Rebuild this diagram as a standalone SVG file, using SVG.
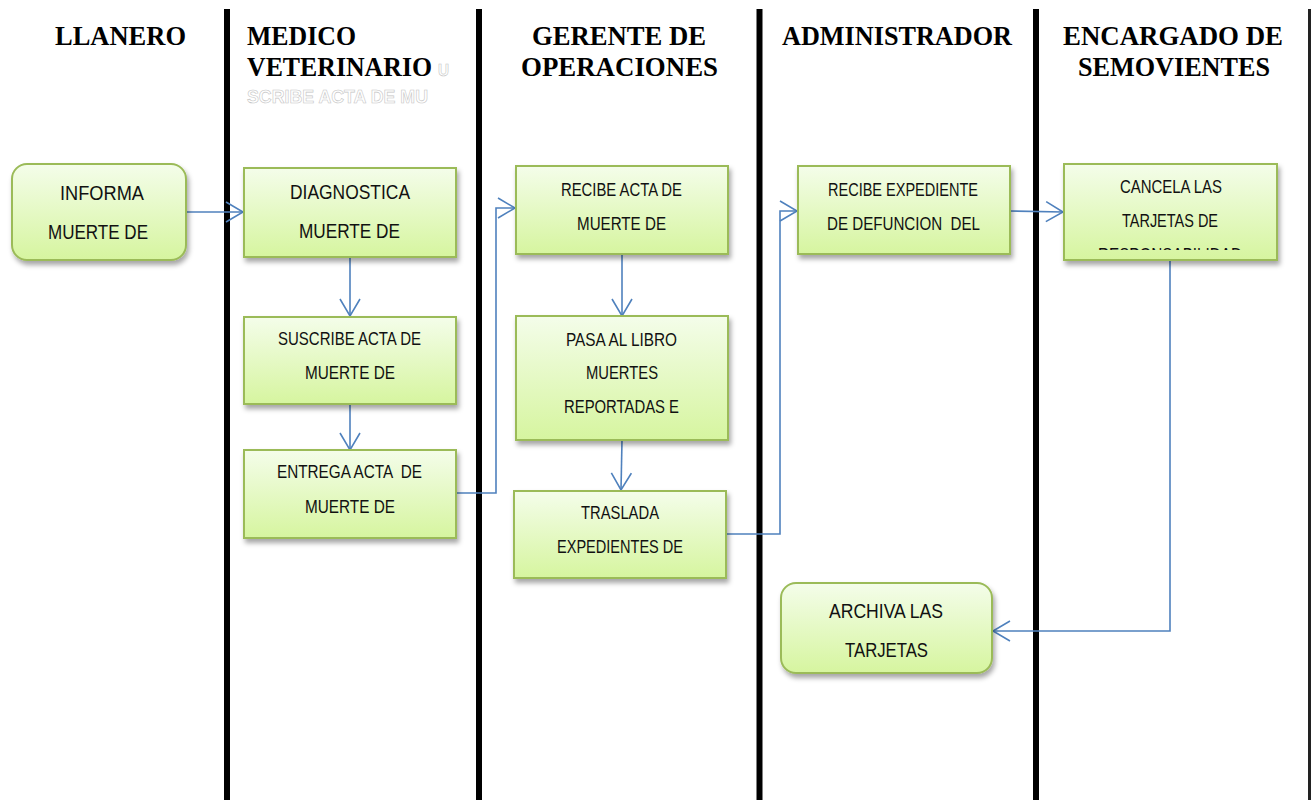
<svg xmlns="http://www.w3.org/2000/svg" width="1312" height="800" viewBox="0 0 1312 800">
<style>
.lane{stroke:#000;stroke-width:6}
.hdr{font-family:"Liberation Serif","Times New Roman",serif;font-weight:bold;font-size:28px;fill:#000}
.ghost{font-family:"Liberation Sans",Arial,sans-serif;font-weight:bold;fill:#fff;stroke:#c4c4c4;stroke-width:0.6}
.box{fill:url(#g);stroke:#9bbb59;stroke-width:2;filter:url(#sh)}
.t{font-family:"Liberation Sans",Arial,sans-serif;fill:#111;white-space:pre}
.L{font-size:21px}
.S{font-size:18px}
.c{fill:none;stroke:#4f81bd;stroke-width:1.6}
</style>
<defs>
<linearGradient id="g" x1="0" y1="0" x2="0" y2="1">
<stop offset="0" stop-color="#f4fdea"/>
<stop offset="1" stop-color="#d6f59f"/>
</linearGradient>
<filter id="sh" x="-10%" y="-10%" width="125%" height="135%">
<feDropShadow dx="2" dy="4" stdDeviation="2.5" flood-color="#000" flood-opacity="0.35"/>
</filter>
<marker id="ah" viewBox="-1 -1 20 22" markerUnits="userSpaceOnUse" markerWidth="20" markerHeight="22" refX="17" refY="10" orient="auto">
<path d="M0,0 L17,10 L0,20" fill="none" stroke="#4f81bd" stroke-width="1.6"/>
</marker>
<clipPath id="clip9"><rect x="1064" y="164" width="213" height="86"/></clipPath>
</defs>
<rect width="1312" height="800" fill="#fff"/>

<g id="lanes">
<line class="lane" x1="227" y1="9" x2="227" y2="800"/>
<line class="lane" x1="479" y1="9" x2="479" y2="800"/>
<line class="lane" x1="759.5" y1="9" x2="759.5" y2="800"/>
<line class="lane" x1="1036" y1="9" x2="1036" y2="800"/>
<line x1="1309.5" y1="9" x2="1309.5" y2="800" stroke="#222" stroke-width="3"/>
</g>

<g id="headers">
<text class="hdr" x="55" y="45" textLength="131" lengthAdjust="spacingAndGlyphs">LLANERO</text>
<text class="hdr" x="247" y="45" textLength="109" lengthAdjust="spacingAndGlyphs">MEDICO</text>
<text class="hdr" x="247" y="76" textLength="185" lengthAdjust="spacingAndGlyphs">VETERINARIO</text>
<text class="ghost" x="438" y="76" font-size="16" textLength="11" lengthAdjust="spacingAndGlyphs">U</text>
<text class="ghost" x="247" y="103" font-size="19" textLength="181" lengthAdjust="spacingAndGlyphs">SCRIBE ACTA DE MU</text>
<text class="hdr" x="532" y="45" textLength="174" lengthAdjust="spacingAndGlyphs">GERENTE DE</text>
<text class="hdr" x="521" y="76" textLength="197" lengthAdjust="spacingAndGlyphs">OPERACIONES</text>
<text class="hdr" x="782" y="45" textLength="230" lengthAdjust="spacingAndGlyphs">ADMINISTRADOR</text>
<text class="hdr" x="1063" y="45" textLength="220" lengthAdjust="spacingAndGlyphs">ENCARGADO DE</text>
<text class="hdr" x="1078" y="76" textLength="192" lengthAdjust="spacingAndGlyphs">SEMOVIENTES</text>
</g>

<g id="connectors">
<path class="c" d="M186,212 L243,212" marker-end="url(#ah)"/>
<path class="c" d="M350,257 L350,316" marker-end="url(#ah)"/>
<path class="c" d="M350,404 L350,450" marker-end="url(#ah)"/>
<path class="c" d="M456,493 L496,493 L496,208 L515,208" marker-end="url(#ah)"/>
<path class="c" d="M622,255 L622,316" marker-end="url(#ah)"/>
<path class="c" d="M622,440 L621,490" marker-end="url(#ah)"/>
<path class="c" d="M726,534 L780,534 L780,211 L797,211" marker-end="url(#ah)"/>
<path class="c" d="M1010,211 L1063,212" marker-end="url(#ah)"/>
<path class="c" d="M1170,260 L1170,631 L993,631" marker-end="url(#ah)"/>
</g>

<g id="n1">
<rect class="box" x="12" y="164" width="174" height="96" rx="15"/>
<text class="t L" x="60" y="200" textLength="84" lengthAdjust="spacingAndGlyphs">INFORMA</text>
<text class="t L" x="48" y="239" textLength="100" lengthAdjust="spacingAndGlyphs">MUERTE DE</text>
</g>
<g id="n2">
<rect class="box" x="244" y="168" width="212" height="89"/>
<text class="t L" x="290" y="199" textLength="120" lengthAdjust="spacingAndGlyphs">DIAGNOSTICA</text>
<text class="t L" x="299" y="238" textLength="101" lengthAdjust="spacingAndGlyphs">MUERTE DE</text>
</g>
<g id="n3">
<rect class="box" x="244" y="317" width="212" height="87"/>
<text class="t S" x="278" y="345" textLength="143" lengthAdjust="spacingAndGlyphs">SUSCRIBE ACTA DE</text>
<text class="t S" x="305" y="379" textLength="90" lengthAdjust="spacingAndGlyphs">MUERTE DE</text>
</g>
<g id="n4">
<rect class="box" x="244" y="450" width="212" height="88"/>
<text class="t S" x="277" y="478" textLength="145" lengthAdjust="spacingAndGlyphs">ENTREGA ACTA  DE</text>
<text class="t S" x="305" y="513" textLength="90" lengthAdjust="spacingAndGlyphs">MUERTE DE</text>
</g>
<g id="n5">
<rect class="box" x="516" y="166" width="212" height="88"/>
<text class="t S" x="561" y="196" textLength="121" lengthAdjust="spacingAndGlyphs">RECIBE ACTA DE</text>
<text class="t S" x="577" y="230" textLength="89" lengthAdjust="spacingAndGlyphs">MUERTE DE</text>
</g>
<g id="n6">
<rect class="box" x="516" y="316" width="212" height="124"/>
<text class="t S" x="566" y="346" textLength="111" lengthAdjust="spacingAndGlyphs">PASA AL LIBRO</text>
<text class="t S" x="586" y="379" textLength="72" lengthAdjust="spacingAndGlyphs">MUERTES</text>
<text class="t S" x="564" y="413" textLength="115" lengthAdjust="spacingAndGlyphs">REPORTADAS E</text>
</g>
<g id="n7">
<rect class="box" x="514" y="491" width="212" height="87"/>
<text class="t S" x="581" y="519" textLength="78" lengthAdjust="spacingAndGlyphs">TRASLADA</text>
<text class="t S" x="557" y="553" textLength="126" lengthAdjust="spacingAndGlyphs">EXPEDIENTES DE</text>
</g>
<g id="n8">
<rect class="box" x="798" y="166" width="212" height="88"/>
<text class="t S" x="828" y="196" textLength="150" lengthAdjust="spacingAndGlyphs">RECIBE EXPEDIENTE</text>
<text class="t S" x="827" y="230" textLength="153" lengthAdjust="spacingAndGlyphs">DE DEFUNCION  DEL</text>
</g>
<g id="n9">
<rect class="box" x="1064" y="164" width="213" height="96"/>
<g clip-path="url(#clip9)">
<text class="t S" x="1120" y="193" textLength="102" lengthAdjust="spacingAndGlyphs">CANCELA LAS</text>
<text class="t S" x="1122" y="227" textLength="96" lengthAdjust="spacingAndGlyphs">TARJETAS DE</text>
<text class="t S" x="1098" y="261" textLength="144" lengthAdjust="spacingAndGlyphs">RESPONSABILIDAD</text>
</g>
</g>
<g id="n10">
<rect class="box" x="781" y="583" width="211" height="90" rx="15"/>
<text class="t L" x="829" y="618" textLength="114" lengthAdjust="spacingAndGlyphs">ARCHIVA LAS</text>
<text class="t L" x="845" y="657" textLength="83" lengthAdjust="spacingAndGlyphs">TARJETAS</text>
</g>
</svg>
